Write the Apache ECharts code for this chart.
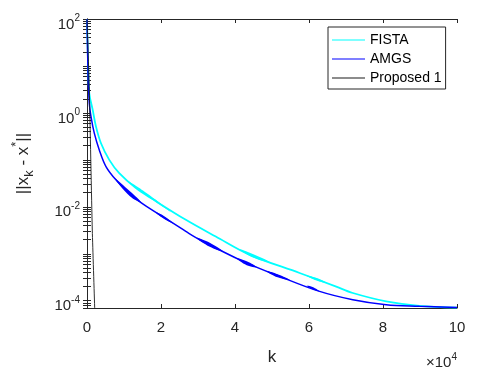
<!DOCTYPE html>
<html>
<head>
<meta charset="utf-8">
<script src="https://cdn.jsdelivr.net/npm/echarts@6/dist/echarts.min.js"></script>
<style>
  html, body { margin: 0; padding: 0; background: #fff; }
  #chart { width: 478px; height: 384px; }
</style>
</head>
<body>
<div id="chart"></div>
<script>
// iteration k, in units of 10^4
const kFista = [0, 0.027, 0.062, 0.154, 0.243, 0.378, 0.602, 0.871, 1.322, 1.772, 2.671, 3.48, 4.397, 5.746, 6.736, 7.184, 8.085, 8.983, 10];
const errFista = [100, 13.4, 2.6, 1.16, 0.51, 0.226, 0.1, 0.052, 0.025, 0.0146, 0.00529, 0.00233, 9.5e-4, 3.9e-4, 2.0e-4, 1.46e-4, 9.7e-5, 7.8e-5, 7.15e-5];

const kAmgs = [0, 0.027, 0.062, 0.108, 0.197, 0.332, 0.513, 0.782, 1.141, 1.411, 1.681, 2.042, 2.671, 3.048, 4.216, 5.206, 6.286, 7.184, 8.085, 8.983, 10];
const errAmgs = [100, 8.2, 1.6, 0.83, 0.37, 0.163, 0.072, 0.0375, 0.0195, 0.013, 0.0094, 0.0062, 0.0030, 0.00199, 6.9e-4, 3.3e-4, 1.58e-4, 1.05e-4, 8.2e-5, 7.6e-5, 7.15e-5];

const kProp = [0, 0.062, 0.143, 0.21, 0.26];
const errProp = [100, 3.1, 3.2e-3, 6e-5, 1e-6];

// oscillation bands: [k start, value, k mid, upper, lower, k end, value]
const fistaBands = [
  [1.106, 0.0356, 1.646, 0.0188, 0.0165, 2.266, 0.0078],
  [4.127, 0.00124, 4.559, 9.35e-4, 7.9e-4, 4.937, 6.65e-4],
  [5.935, 3.42e-4, 6.205, 3.03e-4, 2.7e-4, 6.474, 2.39e-4]
];
const amgsBands = [
  [0.755, 0.040, 1.16, 0.0214, 0.0167, 1.457, 0.0126],
  [1.861, 0.0076, 2.077, 0.0064, 0.0056, 2.32, 0.0045],
  [2.967, 0.00217, 3.318, 0.00171, 0.00141, 3.669, 0.00113],
  [4.046, 8.0e-4, 4.316, 6.95e-4, 5.7e-4, 4.586, 5.2e-4],
  [4.856, 4.27e-4, 5.152, 3.66e-4, 3.16e-4, 5.476, 2.77e-4],
  [5.935, 2.08e-4, 6.097, 1.97e-4, 1.75e-4, 6.286, 1.58e-4]
];

const yMajor = [1e-4, 1e-2, 1, 100];
const yMinor = [];
[1e-5, 1e-4, 1e-3, 1e-2, 1e-1, 1, 10].forEach(d => {
  for (let m = 1; m <= 9; m++) yMinor.push(+(d * m).toPrecision(3));
});
yMinor.push(100);

const FONT = 'Liberation Sans, Arial, Helvetica, sans-serif';
const AXC = '#262626';
const LINE_ICON = 'path://M0,0H33V1H0Z';

function zip(xs, ys) { return xs.map((x, i) => [x, ys[i]]); }

function bandItem(color) {
  return function (params, api) {
    const a = api.coord([api.value(0), api.value(1)]);
    const b = api.coord([api.value(2), api.value(3)]);
    const c = api.coord([api.value(5), api.value(6)]);
    const d = api.coord([api.value(2), api.value(4)]);
    return {
      type: 'polygon',
      shape: { points: [a, b, c, d], smooth: 0.4 },
      style: { fill: color }
    };
  };
}

const supFmt = v => '{b|10}{s|' + Math.round(Math.log10(v)) + '}';

const chart = echarts.init(document.getElementById('chart'));
chart.setOption({
  animation: false,
  backgroundColor: '#fff',
  textStyle: { fontFamily: FONT },
  grid: { left: 87, right: 21, top: 19, bottom: 76 },
  legend: {
    data: [
      { name: 'FISTA', icon: LINE_ICON },
      { name: 'AMGS', icon: LINE_ICON },
      { name: 'Proposed 1', icon: LINE_ICON }
    ],
    orient: 'vertical',
    left: 328, top: 27,
    padding: [6, 4, 4, 4],
    itemWidth: 33, itemHeight: 14, itemGap: 5,
    borderColor: AXC, borderWidth: 1, borderRadius: 0,
    backgroundColor: '#fff',
    textStyle: { fontFamily: FONT, fontSize: 14, color: '#000' }
  },
  xAxis: [{
    type: 'value', min: 0, max: 10, interval: 2,
    name: 'k', nameLocation: 'middle', nameGap: 41,
    nameTextStyle: { fontFamily: FONT, fontSize: 17, color: AXC },
    axisLine: { lineStyle: { color: AXC, width: 1 } },
    axisTick: { inside: true, length: 4, lineStyle: { color: AXC } },
    axisLabel: { margin: 12, fontSize: 15, color: AXC, fontFamily: FONT },
    splitLine: { show: false }
  }, {
    type: 'value', min: 0, max: 10, interval: 2, position: 'top',
    axisLine: { lineStyle: { color: AXC, width: 1 } },
    axisTick: { inside: true, length: 4, lineStyle: { color: AXC } },
    axisLabel: { show: false },
    splitLine: { show: false }
  }],
  yAxis: [{
    type: 'log', logBase: 10, min: 7e-5, max: 100,
    name: '{n|||x}{sub|k}{n| - x}{sup|*}{n|||}',
    nameLocation: 'middle', nameGap: 50,
    nameTextStyle: {
      color: AXC,
      rich: {
        n: { fontFamily: FONT, fontSize: 17, color: AXC },
        sub: { fontFamily: FONT, fontSize: 13, color: AXC, padding: [12, 0, 0, 0] },
        sup: { fontFamily: FONT, fontSize: 13, color: AXC, padding: [0, 0, 14, 0] }
      }
    },
    axisLine: { show: true, lineStyle: { color: AXC, width: 1 } },
    axisTick: { inside: true, length: 4, lineStyle: { color: AXC }, customValues: yMinor },
    axisLabel: {
      margin: 7, customValues: yMajor, formatter: supFmt,
      padding: [11, 0, 0, 0],
      rich: {
        b: { fontFamily: FONT, fontSize: 15, color: AXC },
        s: { fontFamily: FONT, fontSize: 10, color: AXC, padding: [0, 0, 12, 0] }
      }
    },
    splitLine: { show: false }, minorTick: { show: false }
  }, {
    type: 'log', logBase: 10, min: 7e-5, max: 100, position: 'right',
    axisLine: { show: true, lineStyle: { color: AXC, width: 1 } },
    axisTick: { inside: true, length: 4, lineStyle: { color: AXC }, customValues: yMinor },
    axisLabel: { show: false },
    splitLine: { show: false }
  }],
  graphic: [{
    type: 'text', right: 21, top: 352,
    style: {
      text: '{m|×10}{s|4}',
      rich: {
        m: { fontFamily: FONT, fontSize: 15, fill: AXC },
        s: { fontFamily: FONT, fontSize: 10, fill: AXC, padding: [0, 0, 12, 0] }
      }
    }
  }],
  series: [
    {
      name: 'FISTA', type: 'line', data: zip(kFista, errFista),
      showSymbol: false, symbol: 'none', smooth: 0.35,
      lineStyle: { color: '#00ffff', width: 1.8 }, itemStyle: { color: '#00ffff' }
    },
    {
      name: 'FISTA band', type: 'custom', data: fistaBands,
      encode: { x: [0, 2, 5], y: [1, 3, 4, 6] },
      renderItem: bandItem('#00ffff'), silent: true
    },
    {
      name: 'AMGS', type: 'line', data: zip(kAmgs, errAmgs),
      showSymbol: false, symbol: 'none', smooth: 0.35,
      lineStyle: { color: '#0000ff', width: 1.5 }, itemStyle: { color: '#0000ff' }
    },
    {
      name: 'AMGS band', type: 'custom', data: amgsBands,
      encode: { x: [0, 2, 5], y: [1, 3, 4, 6] },
      renderItem: bandItem('#0000ff'), silent: true
    },
    {
      name: 'Proposed 1', type: 'line', data: zip(kProp, errProp),
      showSymbol: false, symbol: 'none', smooth: 0.2,
      lineStyle: { color: '#1a1a1a', width: 0.9 }, itemStyle: { color: '#1a1a1a' }
    }
  ]
});
</script>
</body>
</html>
